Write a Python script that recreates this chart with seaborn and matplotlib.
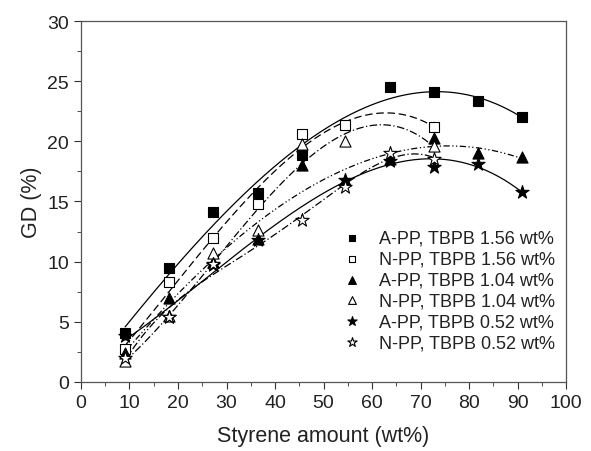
import numpy as np
import pandas as pd
import matplotlib
matplotlib.use("Agg")
import matplotlib.pyplot as plt
import seaborn as sns
from matplotlib.ticker import MultipleLocator

# styrene amount (wt%) for each series
x_a156 = [9.1, 18.2, 27.3, 36.4, 45.5, 63.6, 72.7, 81.8, 90.9]
y_a156 = [4.1, 9.5, 14.1, 15.7, 18.9, 24.5, 24.1, 23.4, 22.0]

x_n156 = [9.1, 18.2, 27.3, 36.4, 45.5, 54.5, 72.7]
y_n156 = [2.7, 8.3, 12.0, 14.8, 20.6, 21.4, 21.2]

x_a104 = [9.1, 18.2, 27.3, 36.4, 45.5, 54.5, 63.6, 72.7, 81.8, 90.9]
y_a104 = [2.4, 7.0, 10.0, 11.9, 18.0, 16.8, 18.5, 20.3, 19.0, 18.7]

x_n104 = [9.1, 18.2, 27.3, 36.4, 45.5, 54.5, 72.7]
y_n104 = [1.7, 5.5, 10.7, 12.6, 19.8, 20.0, 19.6]

x_a052 = [9.1, 18.2, 27.3, 36.4, 54.5, 63.6, 72.7, 81.8, 90.9]
y_a052 = [3.8, 5.4, 9.7, 11.8, 16.8, 18.4, 17.9, 18.1, 15.8]

x_n052 = [9.1, 18.2, 27.3, 45.5, 54.5, 63.6, 72.7]
y_n052 = [2.0, 5.4, 9.8, 13.5, 16.2, 19.0, 18.5]

labels = ["A-PP, TBPB 1.56 wt%", "N-PP, TBPB 1.56 wt%", "A-PP, TBPB 1.04 wt%",
          "N-PP, TBPB 1.04 wt%", "A-PP, TBPB 0.52 wt%", "N-PP, TBPB 0.52 wt%"]

# x, y, marker, face, line style, marker size, fit degree
series = [
    (x_a156, y_a156, "s", "black", "-", 7, 3),
    (x_n156, y_n156, "s", "white", (0, (6, 3)), 7, 3),
    (x_a104, y_a104, "^", "black", (0, (5, 2, 1, 2, 1, 2)), 8, 3),
    (x_n104, y_n104, "^", "white", (0, (6, 2, 1, 2)), 8, 3),
    (x_a052, y_a052, "*", "black", "-", 10, 3),
    (x_n052, y_n052, "*", "white", (0, (6, 2, 1, 2)), 10, 4),
]

sns.set_style("ticks")
plt.rcParams["font.family"] = ["Liberation Sans", "DejaVu Sans"]

fig, ax = plt.subplots(figsize=(5.91, 4.52), dpi=100)
fig.subplots_adjust(left=0.137, right=0.958, top=0.951, bottom=0.153)

for (xs, ys, mk, fc, ls, ms, deg), lab in zip(series, labels):
    # smooth fitted curve
    coef = np.polyfit(xs, ys, deg)
    xf = np.linspace(min(xs), max(xs), 200)
    fit = pd.DataFrame({"x": xf, "y": np.polyval(coef, xf)})
    sns.lineplot(data=fit, x="x", y="y", ax=ax, color="black", lw=0.9,
                 linestyle=ls, legend=False)
    pts = pd.DataFrame({"x": xs, "y": ys})
    sns.scatterplot(data=pts, x="x", y="y", ax=ax, marker=mk, s=ms ** 2,
                    facecolor=fc, edgecolor="black", linewidth=0.8,
                    label=lab, zorder=3)

ax.set_xlim(0, 100)
ax.set_ylim(0, 30)
ax.xaxis.set_major_locator(MultipleLocator(10))
ax.xaxis.set_minor_locator(MultipleLocator(5))
ax.yaxis.set_major_locator(MultipleLocator(5))
ax.yaxis.set_minor_locator(MultipleLocator(2.5))
ax.tick_params(which="both", direction="out", top=False, right=False,
               color="#333333")
ax.tick_params(which="major", length=5, labelsize=14, labelcolor="#222222")
ax.tick_params(which="minor", length=3)
for sp in ax.spines.values():
    sp.set_color("#555555")
    sp.set_linewidth(0.9)

ax.set_xlabel("Styrene amount (wt%)", fontsize=15.5, color="#222222", labelpad=10)
ax.set_ylabel("GD (%)", fontsize=15.5, color="#222222", labelpad=4)

leg = ax.legend(loc="lower right", bbox_to_anchor=(1.0, 0.055), frameon=False,
                fontsize=13, handletextpad=0.5, labelspacing=0.22,
                markerscale=0.7, borderaxespad=0.2)
for t in leg.get_texts():
    t.set_color("#222222")

fig.savefig("out.png", dpi=100)
